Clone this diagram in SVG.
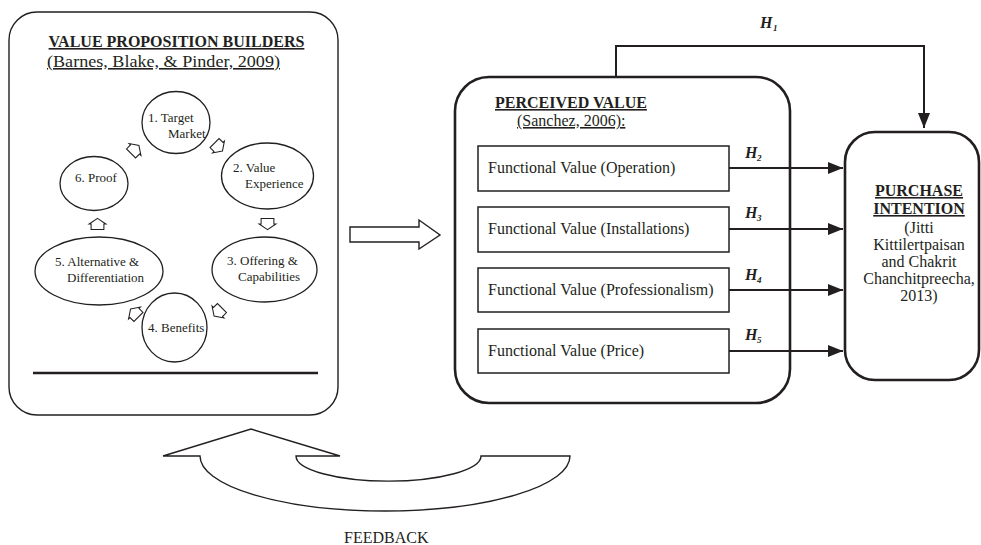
<svg xmlns="http://www.w3.org/2000/svg" width="981" height="545" viewBox="0 0 981 545">
<style>
text{font-family:"Liberation Serif","Times New Roman",serif;fill:#231f20}
.t13{font-size:13px}
.t16{font-size:16px}
.b{font-weight:bold}
.u{text-decoration:underline}
.h{font-size:16px;font-weight:bold;font-style:italic}
.hs{font-size:9px;font-weight:bold;font-style:italic}
.thin{fill:#fff;stroke:#231f20;stroke-width:1.4}
.thick{fill:#fff;stroke:#231f20;stroke-width:2.6}
.box{fill:#fff;stroke:#231f20;stroke-width:1.5}
.conn{fill:none;stroke:#231f20;stroke-width:2}
.small{fill:#fff;stroke:#231f20;stroke-width:1.3}
</style>
<defs>
<marker id="ah" markerUnits="userSpaceOnUse" viewBox="0 0 15 12" refX="15" refY="6" markerWidth="15" markerHeight="12" orient="auto">
<path d="M0,0 L15,6 L0,12 Z" fill="#231f20"/>
</marker>
<polygon id="sa" points="0,-7 10.5,0 8,0 8,7 -8,7 -8,0 -10.5,0" class="small"/>
</defs>

<g id="builders">
<rect x="9" y="12" width="329" height="403" rx="28" class="thin"/>
<text x="176.5" y="47" class="t16 b u" text-anchor="middle">VALUE PROPOSITION BUILDERS</text>
<text x="47" y="67" class="t16 u" textLength="233" lengthAdjust="spacingAndGlyphs">(Barnes, Blake, &amp; Pinder, 2009)</text>
<line x1="33" y1="373" x2="318" y2="373" stroke="#231f20" stroke-width="2.6"/>
</g>

<g id="n1">
<ellipse cx="176" cy="122.5" rx="34" ry="31" class="small"/>
<text x="148" y="122" class="t13">1. Target</text>
<text x="168" y="138" class="t13">Market</text>
</g>
<g id="n2">
<ellipse cx="267.5" cy="176" rx="46" ry="33" class="small"/>
<text x="233" y="172" class="t13">2. Value</text>
<text x="245" y="188" class="t13">Experience</text>
</g>
<g id="n3">
<ellipse cx="264.5" cy="269.5" rx="52.5" ry="32.5" class="small"/>
<text x="227" y="265" class="t13">3. Offering &amp;</text>
<text x="238" y="281" class="t13">Capabilities</text>
</g>
<g id="n4">
<ellipse cx="174.5" cy="327.5" rx="32.5" ry="34.5" class="small"/>
<text x="148" y="332" class="t13">4. Benefits</text>
</g>
<g id="n5">
<ellipse cx="99" cy="271" rx="64" ry="34" class="small"/>
<text x="55" y="266" class="t13">5. Alternative &amp;</text>
<text x="67" y="282" class="t13">Differentiation</text>
</g>
<g id="n6">
<ellipse cx="94" cy="183.5" rx="34" ry="27" class="small"/>
<text x="75" y="182" class="t13">6. Proof</text>
</g>

<g id="cycle-arrows">
<use href="#sa" transform="translate(218.5,147) rotate(135) scale(0.8)"/>
<use href="#sa" transform="translate(267.5,224) rotate(180) scale(0.8)"/>
<use href="#sa" transform="translate(218,312) rotate(225) scale(0.8)"/>
<use href="#sa" transform="translate(134.5,313) rotate(315) scale(0.8)"/>
<use href="#sa" transform="translate(97.5,224) scale(0.8)"/>
<use href="#sa" transform="translate(135,149.5) rotate(45) scale(0.8)"/>
</g>

<g id="big-arrow">
<polygon points="350,227 419,227 419,220 440,235 419,249 419,242 350,242" class="thin"/>
</g>

<g id="perceived">
<rect x="455" y="77" width="335" height="326" rx="34" class="thick"/>
<text x="495" y="108" class="t16 b u">PERCEIVED VALUE</text>
<text x="517" y="126" class="t16 u">(Sanchez, 2006):</text>
</g>
<g id="fv-operation">
<rect x="478" y="146" width="251" height="45" class="box"/>
<text x="488" y="173" class="t16">Functional Value (Operation)</text>
</g>
<g id="fv-installations">
<rect x="478" y="207" width="251" height="45" class="box"/>
<text x="488" y="234" class="t16">Functional Value (Installations)</text>
</g>
<g id="fv-professionalism">
<rect x="478" y="268" width="251" height="44" class="box"/>
<text x="488" y="295" class="t16">Functional Value (Professionalism)</text>
</g>
<g id="fv-price">
<rect x="478" y="329" width="251" height="44" class="box"/>
<text x="488" y="356" class="t16">Functional Value (Price)</text>
</g>

<g id="purchase">
<rect x="845" y="132" width="134" height="248" rx="30" class="thick"/>
<text x="919" y="196" class="t16 b u" text-anchor="middle">PURCHASE</text>
<text x="919" y="214" class="t16 b u" text-anchor="middle">INTENTION</text>
<text x="919" y="233" class="t16" text-anchor="middle">(Jitti</text>
<text x="919" y="250" class="t16" text-anchor="middle">Kittilertpaisan</text>
<text x="919" y="267" class="t16" text-anchor="middle">and Chakrit</text>
<text x="919" y="284" class="t16" text-anchor="middle">Chanchitpreecha,</text>
<text x="919" y="301" class="t16" text-anchor="middle">2013)</text>
</g>

<g id="connectors">
<path d="M616,77 V46 H924 V128" class="conn" marker-end="url(#ah)"/>
<line x1="729" y1="168" x2="843" y2="168" class="conn" marker-end="url(#ah)"/>
<line x1="729" y1="229" x2="843" y2="229" class="conn" marker-end="url(#ah)"/>
<line x1="729" y1="290" x2="843" y2="290" class="conn" marker-end="url(#ah)"/>
<line x1="729" y1="351" x2="843" y2="351" class="conn" marker-end="url(#ah)"/>
<text x="760" y="28" class="h">H</text><text x="773" y="31" class="hs">1</text>
<text x="745" y="158" class="h">H</text><text x="757" y="161" class="hs">2</text>
<text x="745" y="218" class="h">H</text><text x="757" y="221" class="hs">3</text>
<text x="745" y="280" class="h">H</text><text x="757" y="283" class="hs">4</text>
<text x="745" y="340" class="h">H</text><text x="757" y="343" class="hs">5</text>
</g>

<g id="feedback">
<path d="M163,456 L251,429 L340,456 L296,456 A92,25 0 0 0 481,456 L570,456 A185,55 0 0 1 200,456 Z" class="thin"/>
<text x="344" y="543" class="t16">FEEDBACK</text>
</g>
</svg>
